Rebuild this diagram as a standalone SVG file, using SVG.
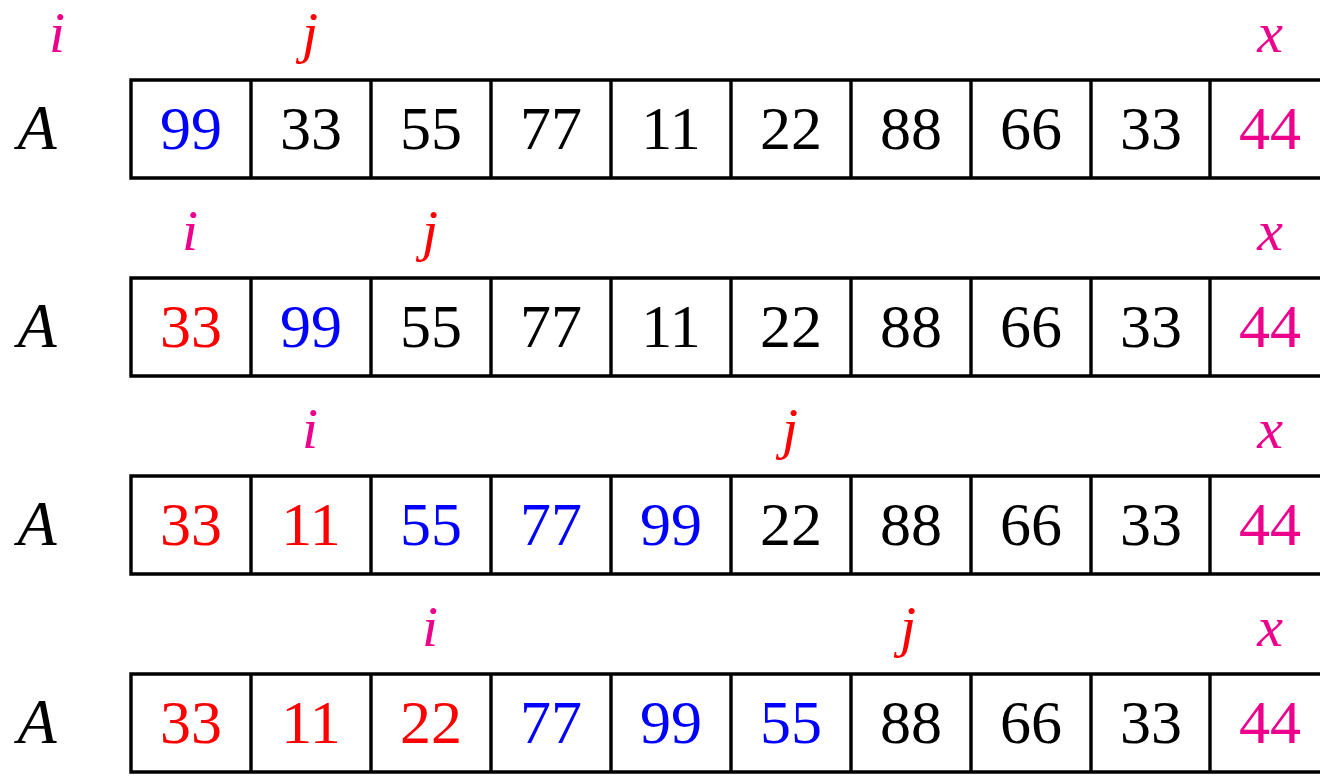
<svg xmlns="http://www.w3.org/2000/svg" width="1320" height="776" viewBox="0 0 1320 776">
<style>
.n{font-family:"Liberation Serif","DejaVu Serif",serif;font-size:62px;text-anchor:middle}
.v{font-family:"Liberation Serif","DejaVu Serif",serif;font-style:italic;font-size:58px;text-anchor:middle}
.a{font-family:"Liberation Serif","DejaVu Serif",serif;font-style:italic;font-size:64px;text-anchor:middle}
.k{fill:#000}.r{fill:#FF0000}.b{fill:#0000FF}.m{fill:#EC008C}
.ln{stroke:#000;stroke-width:3.4;fill:none;stroke-linecap:square}
</style>
<defs>
<g id="grid">
<path class="ln" d="M131,0H1330M131,98H1330M131,0V98M251,0V98M371,0V98M491,0V98M611,0V98M731,0V98M851,0V98M971,0V98M1091,0V98M1210,0V98"/>
</g>
</defs>
<g id="row1">
<text class="v m" x="57" y="52">i</text>
<text class="v r" x="310" y="52">j</text>
<text class="v m" x="1270" y="52">x</text>
<text class="a k" x="37" y="149">A</text>
<use href="#grid" x="0" y="80"/>
<g class="n"><text class="b" x="191" y="149">99</text><text class="k" x="311" y="149">33</text><text class="k" x="431" y="149">55</text><text class="k" x="551" y="149">77</text><text class="k" x="671" y="149">11</text><text class="k" x="791" y="149">22</text><text class="k" x="911" y="149">88</text><text class="k" x="1031" y="149">66</text><text class="k" x="1151" y="149">33</text><text class="m" x="1270" y="149">44</text></g>
</g>
<g id="row2">
<text class="v m" x="190" y="250">i</text>
<text class="v r" x="430" y="250">j</text>
<text class="v m" x="1270" y="250">x</text>
<text class="a k" x="37" y="347">A</text>
<use href="#grid" x="0" y="278"/>
<g class="n"><text class="r" x="191" y="347">33</text><text class="b" x="311" y="347">99</text><text class="k" x="431" y="347">55</text><text class="k" x="551" y="347">77</text><text class="k" x="671" y="347">11</text><text class="k" x="791" y="347">22</text><text class="k" x="911" y="347">88</text><text class="k" x="1031" y="347">66</text><text class="k" x="1151" y="347">33</text><text class="m" x="1270" y="347">44</text></g>
</g>
<g id="row3">
<text class="v m" x="310" y="448">i</text>
<text class="v r" x="790" y="448">j</text>
<text class="v m" x="1270" y="448">x</text>
<text class="a k" x="37" y="545">A</text>
<use href="#grid" x="0" y="476"/>
<g class="n"><text class="r" x="191" y="545">33</text><text class="r" x="311" y="545">11</text><text class="b" x="431" y="545">55</text><text class="b" x="551" y="545">77</text><text class="b" x="671" y="545">99</text><text class="k" x="791" y="545">22</text><text class="k" x="911" y="545">88</text><text class="k" x="1031" y="545">66</text><text class="k" x="1151" y="545">33</text><text class="m" x="1270" y="545">44</text></g>
</g>
<g id="row4">
<text class="v m" x="430" y="646">i</text>
<text class="v r" x="908" y="646">j</text>
<text class="v m" x="1270" y="646">x</text>
<text class="a k" x="37" y="743">A</text>
<use href="#grid" x="0" y="674"/>
<g class="n"><text class="r" x="191" y="743">33</text><text class="r" x="311" y="743">11</text><text class="r" x="431" y="743">22</text><text class="b" x="551" y="743">77</text><text class="b" x="671" y="743">99</text><text class="b" x="791" y="743">55</text><text class="k" x="911" y="743">88</text><text class="k" x="1031" y="743">66</text><text class="k" x="1151" y="743">33</text><text class="m" x="1270" y="743">44</text></g>
</g>
</svg>
